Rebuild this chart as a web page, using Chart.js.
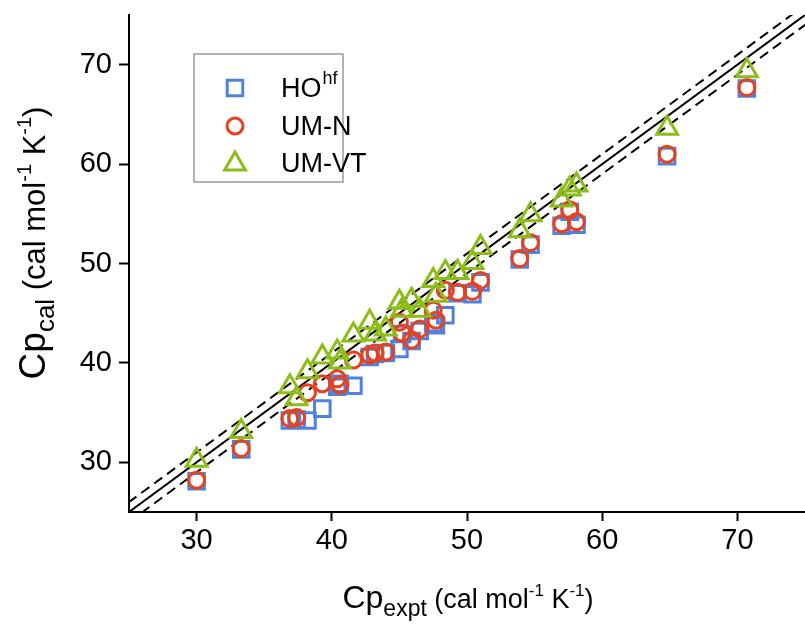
<!DOCTYPE html>
<html>
<head>
<meta charset="utf-8">
<script src="https://cdn.jsdelivr.net/npm/chart.js@4.4.0/dist/chart.umd.min.js"></script>
<style>
  html, body { margin: 0; padding: 0; background: #fff; }
</style>
</head>
<body>
<canvas id="myChart" width="805" height="624"></canvas>
<script>
// experimental heat capacities (same molecules for every method)
const cpExpt = [30.0, 33.3, 36.9, 37.4, 38.2, 39.3, 40.4, 40.6, 41.6, 42.8, 43.2, 44.0, 45.0, 45.2, 45.9,
                46.5, 47.5, 47.7, 48.4, 49.3, 50.4, 51.0, 53.9, 54.7, 57.0, 57.6, 58.1, 64.8, 70.7]
const hoHf = [28.1, 31.3, 34.2, 34.3, 34.2, 35.4, 37.6, 37.9, 37.7, 40.6, 40.9, 41.0, 41.4, 42.9, 42.2,
              43.2, 44.0, 43.8, 44.8, 47.0, 46.9, 48.1, 50.4, 51.9, 53.8, 55.2, 53.9, 60.8, 67.6]
const umN = [28.2, 31.4, 34.4, 34.5, 37.0, 37.9, 38.4, 37.8, 40.3, 40.8, 41.0, 41.1, 44.1, 43.0, 42.3,
             43.4, 45.3, 44.3, 47.3, 47.1, 47.2, 48.3, 50.5, 52.1, 54.0, 55.4, 54.2, 61.0, 67.7]
const umVT = [30.2, 33.1, 37.6, 36.4, 39.1, 40.6, 41.1, 40.1, 42.8, 44.1, 42.9, 43.4, 46.1, 45.3, 46.3,
              45.3, 48.3, 46.8, 49.1, 49.1, 50.1, 51.6, 53.3, 54.9, 56.4, 57.5, 57.9, 63.6, 69.4]
const diagEnds = [24, 76]
const bandWidth = 1
const xTicks = [30, 40, 50, 60, 70]
const yTicks = [30, 40, 50, 60, 70]
const seriesNames = ['HO', 'UM-N', 'UM-VT']

const FONT = '"Liberation Sans", Arial, sans-serif'
const blue = '#4f82dd'
const red = '#e8411e'
const green = '#8dbd18'

const pts = ys => cpExpt.map((x, i) => ({ x: x, y: ys[i] }))
const diag = off => diagEnds.map(v => ({ x: v, y: v + off }))

// axis titles and legend with sub/superscripts
function richText(ctx, parts, x, y) {
  let w = 0
  parts.forEach(p => { ctx.font = p.size + 'px ' + FONT; w += ctx.measureText(p.t).width })
  let cx = x - w / 2
  parts.forEach(p => {
    ctx.font = p.size + 'px ' + FONT
    ctx.fillText(p.t, cx, y + (p.dy || 0))
    cx += ctx.measureText(p.t).width
  })
}

const extras = {
  id: 'extras',
  afterDraw(chart) {
    const ctx = chart.ctx
    ctx.save()
    ctx.fillStyle = '#000'
    ctx.textBaseline = 'alphabetic'
    ctx.textAlign = 'left'
    richText(ctx, [
      { t: 'Cp', size: 32 }, { t: 'expt', size: 23, dy: 8 },
      { t: ' (cal mol', size: 27 }, { t: '-1', size: 17, dy: -12 },
      { t: ' K', size: 27 }, { t: '-1', size: 17, dy: -12 }, { t: ')', size: 27 }
    ], 468, 608)
    ctx.translate(45, 243)
    ctx.rotate(-Math.PI / 2)
    richText(ctx, [
      { t: 'Cp', size: 37 }, { t: 'cal', size: 26, dy: 9 },
      { t: ' (cal mol', size: 31 }, { t: '-1', size: 20, dy: -14 },
      { t: ' K', size: 31 }, { t: '-1', size: 20, dy: -14 }, { t: ')', size: 31 }
    ], 0, 0)
    ctx.restore()

    // legend
    ctx.save()
    ctx.strokeStyle = '#9a9a9a'
    ctx.lineWidth = 1.5
    ctx.strokeRect(194, 54, 149, 128)
    const items = [
      { style: 'rect', r: 11, c: blue, y: 88, base: 97 },
      { style: 'circle', r: 8, c: red, y: 126, base: 135 },
      { style: 'triangle', r: 12, c: green, y: 164, base: 172 }
    ]
    items.forEach((it, i) => {
      ctx.strokeStyle = it.c
      ctx.fillStyle = 'rgba(0,0,0,0)'
      ctx.lineWidth = 3
      Chart.helpers.drawPoint(ctx, { pointStyle: it.style, radius: it.r, borderWidth: 3, rotation: 0 }, 235, it.y)
      ctx.fillStyle = '#000'
      ctx.font = '27px ' + FONT
      ctx.fillText(seriesNames[i], 281, it.base)
      if (i === 0) {
        const w = ctx.measureText(seriesNames[i]).width
        ctx.font = '18px ' + FONT
        ctx.fillText('hf', 281 + w + 1, it.base - 13)
      }
    })
    ctx.restore()
  }
}

const marker = (label, ys, style, r, color, order) => ({
  label: label, data: pts(ys), pointStyle: style, pointRadius: r,
  borderColor: color, backgroundColor: 'rgba(0,0,0,0)', pointBorderWidth: 3, borderWidth: 3,
  showLine: false, order: order
})
const refLine = (off, dash) => ({
  type: 'line', data: diag(off), borderColor: '#000', borderWidth: 2, borderDash: dash,
  pointRadius: 0, fill: false, order: 5
})

const config = {
  type: 'scatter',
  data: {
    datasets: [
      marker(seriesNames[0], hoHf, 'rect', 11, blue, 2),
      marker(seriesNames[1], umN, 'circle', 8, red, 1),
      marker(seriesNames[2], umVT, 'triangle', 12, green, 0),
      refLine(0, []),
      refLine(bandWidth, [10, 6]),
      refLine(-bandWidth, [10, 6])
    ]
  },
  options: {
    responsive: false,
    animation: false,
    events: [],
    layout: { autoPadding: false, padding: { top: 15, right: 0, left: 0, bottom: 0 } },
    plugins: { legend: { display: false }, tooltip: { enabled: false } },
    scales: {
      x: {
        type: 'linear', min: 25, max: 75,
        afterBuildTicks: s => { s.ticks = xTicks.map(v => ({ value: v })) },
        afterFit: s => { s.height = 112; s.paddingLeft = 0; s.paddingRight = 0 },
        grid: { drawOnChartArea: false, color: '#000', tickLength: 9, tickWidth: 2 },
        border: { display: true, color: '#000', width: 2 },
        ticks: { color: '#000', font: { family: FONT, size: 29 }, padding: 3 }
      },
      y: {
        type: 'linear', min: 25, max: 75,
        afterBuildTicks: s => { s.ticks = yTicks.map(v => ({ value: v })) },
        afterFit: s => { s.width = 129; s.paddingTop = 0; s.paddingBottom = 0 },
        grid: { drawOnChartArea: false, color: '#000', tickLength: 10, tickWidth: 2 },
        border: { display: true, color: '#000', width: 2 },
        ticks: { color: '#000', font: { family: FONT, size: 29 }, padding: 7 }
      }
    }
  },
  plugins: [extras]
}

const myChart = new Chart(document.getElementById('myChart').getContext('2d'), config)
</script>
</body>
</html>
